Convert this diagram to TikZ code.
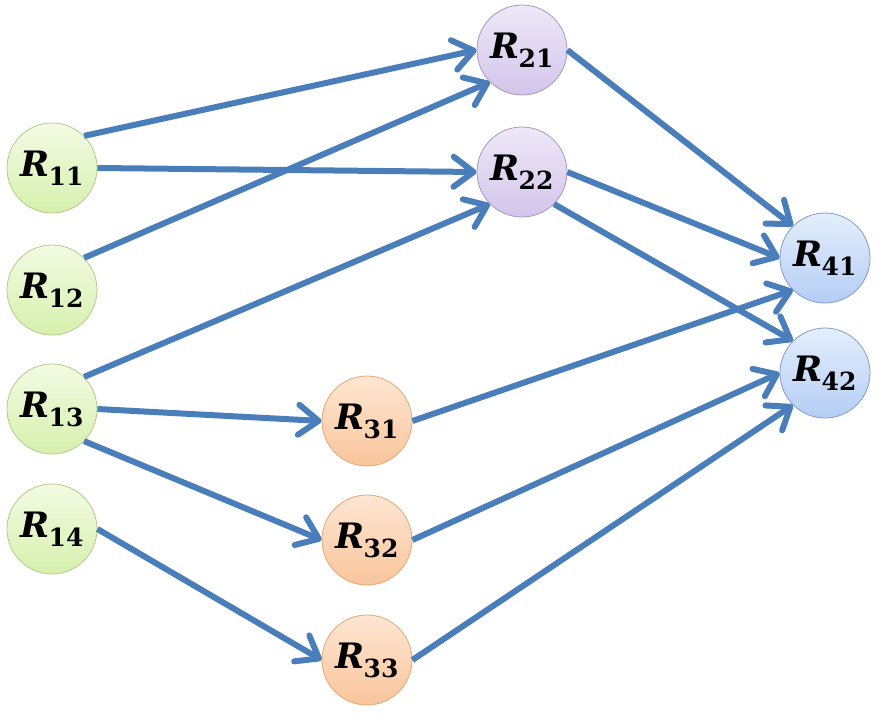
\documentclass[tikz,border=0pt]{standalone}
\usepackage{fontspec}
\setmainfont{DejaVu Serif}
\usetikzlibrary{arrows.meta}
\definecolor{linkblue}{HTML}{4A7EBB}
\definecolor{gTop}{HTML}{F3FBE3}\definecolor{gBot}{HTML}{D6F0AE}\definecolor{gEdge}{HTML}{B3CC8C}
\definecolor{pTop}{HTML}{EEE8F7}\definecolor{pBot}{HTML}{D3C5EB}\definecolor{pEdge}{HTML}{A796C6}
\definecolor{oTop}{HTML}{FEE6D2}\definecolor{oBot}{HTML}{F9C59C}\definecolor{oEdge}{HTML}{E3A772}
\definecolor{bTop}{HTML}{E4EEFC}\definecolor{bBot}{HTML}{B5CDF5}\definecolor{bEdge}{HTML}{7F9DCB}
\tikzset{
  rnode/.style={circle, minimum size=90pt, inner sep=0pt, line width=0.8pt,
    font=\fontsize{35}{40}\selectfont\bfseries},
  greennode/.style={rnode, draw=gEdge, top color=gTop, bottom color=gBot},
  purplenode/.style={rnode, draw=pEdge, top color=pTop, bottom color=pBot},
  orangenode/.style={rnode, draw=oEdge, top color=oTop, bottom color=oBot},
  bluenode/.style={rnode, draw=bEdge, top color=bTop, bottom color=bBot},
  link/.style={draw=linkblue, line width=6pt,
    -{Straight Barb[length=20pt,width=30pt,round]}},
}
% bold italic R with a lowered bold index
\newcommand{\rlab}[1]{{\itshape R}\kern-1pt\raisebox{-9pt}{\fontsize{25}{28}\selectfont #1}}
\begin{document}
\begin{tikzpicture}[x=1pt,y=-1pt]
  \useasboundingbox (0,0) rectangle (881,715);
  % first column
  \node[greennode] (r11) at (52,168) {\rlab{11}};
  \node[greennode] (r12) at (52,290) {\rlab{12}};
  \node[greennode] (r13) at (52,409) {\rlab{13}};
  \node[greennode] (r14) at (52,529) {\rlab{14}};
  % second column
  \node[purplenode] (r21) at (522,50) {\rlab{21}};
  \node[purplenode] (r22) at (522,172) {\rlab{22}};
  % third column
  \node[orangenode] (r31) at (367,421) {\rlab{31}};
  \node[orangenode] (r32) at (367,540) {\rlab{32}};
  \node[orangenode] (r33) at (367,660) {\rlab{33}};
  % last column
  \node[bluenode] (r41) at (825,258) {\rlab{41}};
  \node[bluenode] (r42) at (825,373) {\rlab{42}};
  % connectors
  \draw[link] (r11.north east) -- (r21.west);
  \draw[link] (r11.east) -- (r22.west);
  \draw[link] (r12.north east) -- (r21.south west);
  \draw[link] (r13.north east) -- (r22.south west);
  \draw[link] (r13.east) -- (r31.west);
  \draw[link] (r13.south east) -- (r32.west);
  \draw[link] (r14.east) -- (r33.west);
  \draw[link] (r21.east) -- (r41.north west);
  \draw[link] (r22.east) -- (r41.west);
  \draw[link] (r22.south east) -- (r42.north west);
  \draw[link] (r31.east) -- (r41.south west);
  \draw[link] (r32.east) -- (r42.west);
  \draw[link] (r33.east) -- (r42.south west);
\end{tikzpicture}
\end{document}
